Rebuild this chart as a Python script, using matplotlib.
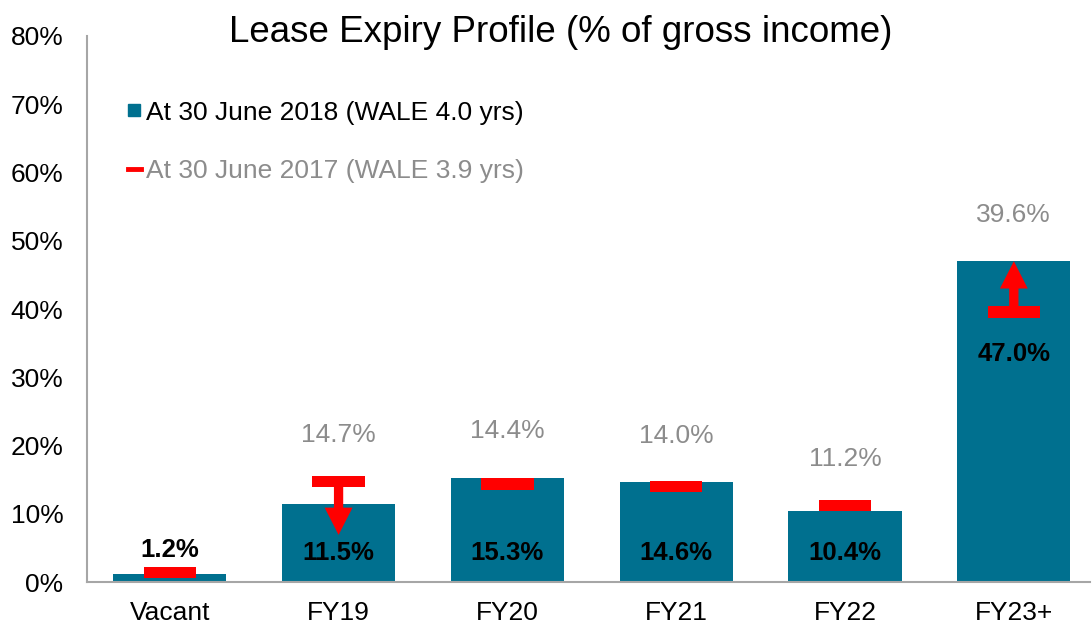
import matplotlib.pyplot as plt
from matplotlib.lines import Line2D

# Lease expiry, % of gross income
CATEGORIES = ["Vacant", "FY19", "FY20", "FY21", "FY22", "FY23+"]
JUNE_2018 = [1.2, 11.5, 15.3, 14.6, 10.4, 47.0]
JUNE_2017 = [1.4, 14.7, 14.4, 14.0, 11.2, 39.6]
OLD_LABELS = ["", "14.7%", "14.4%", "14.0%", "11.2%", "39.6%"]
ARROW_CATS = ["FY19", "FY23+"]

TEAL = "#00708F"
RED = "#FF0000"
GREY = "#8C8C8C"

plt.rcParams['font.family'] = ['Liberation Sans', 'DejaVu Sans']

fig = plt.figure(figsize=(10.92, 6.28), dpi=100)
ax = fig.add_axes([0.0797, 0.0732, 0.9183, 0.8695])

xs = list(range(len(CATEGORIES)))
ax.bar(xs, JUNE_2018, width=0.67, color=TEAL, zorder=2)

# 2017 markers: short red bars centred on the old value
mh = 1.7
ax.bar(xs, [mh] * len(xs), bottom=[v - mh / 2 for v in JUNE_2017],
       width=0.31, color=RED, zorder=3)

for cat in ARROW_CATS:
    i = CATEGORIES.index(cat)
    old, new = JUNE_2017[i], JUNE_2018[i]
    d = new - old
    if d < 0:
        d -= 4.6  # arrow runs down into the bar
    ax.arrow(i, old, 0, d, width=0.055, head_width=0.165, head_length=4.0,
             length_includes_head=True, color=RED, zorder=4, linewidth=0)

# labels
for i, v in enumerate(JUNE_2018):
    if i == 0:
        y = v + 3.5
    elif v > 30:
        y = v - 13.6
    else:
        y = 4.2
    ax.text(i, y, f"{v:.1f}%", ha="center", va="center", fontsize=18.5,
            fontweight="bold", color="black", zorder=5)
    if OLD_LABELS[i]:
        top = max(v, JUNE_2017[i])
        ax.text(i, top + 6.8, OLD_LABELS[i], ha="center", va="center",
                fontsize=19, color=GREY, zorder=5)

ax.set_xlim(-0.49, 5.45)
ax.set_ylim(0, 80)
ax.set_yticks(range(0, 81, 10))
ax.set_yticklabels([f"{t}%" for t in range(0, 81, 10)], fontsize=19)
ax.set_xticks(xs)
ax.set_xticklabels(CATEGORIES, fontsize=19)
ax.tick_params(length=0)
ax.tick_params(axis="x", pad=14)
ax.tick_params(axis="y", pad=17)
for s in ["top", "right"]:
    ax.spines[s].set_visible(False)
for s in ["left", "bottom"]:
    ax.spines[s].set_color("#A6A6A6")
    ax.spines[s].set_linewidth(1.5)

handles = [
    Line2D([], [], marker="s", color=TEAL, linestyle="none", markersize=9),
    Line2D([], [], color=RED, linewidth=3.5),
]
leg = ax.legend(handles, ["At 30 June 2018 (WALE 4.0 yrs)",
                          "At 30 June 2017 (WALE 3.9 yrs)"],
                loc="upper left", bbox_to_anchor=(0.017, 0.925), frameon=False,
                fontsize=19, handlelength=0.5, handletextpad=0.2,
                labelspacing=1.3)
leg.get_texts()[1].set_color(GREY)

fig.text(0.513, 0.949, "Lease Expiry Profile (% of gross income)",
         ha="center", va="center", fontsize=26.5)

fig.savefig("out.png", dpi=100)
